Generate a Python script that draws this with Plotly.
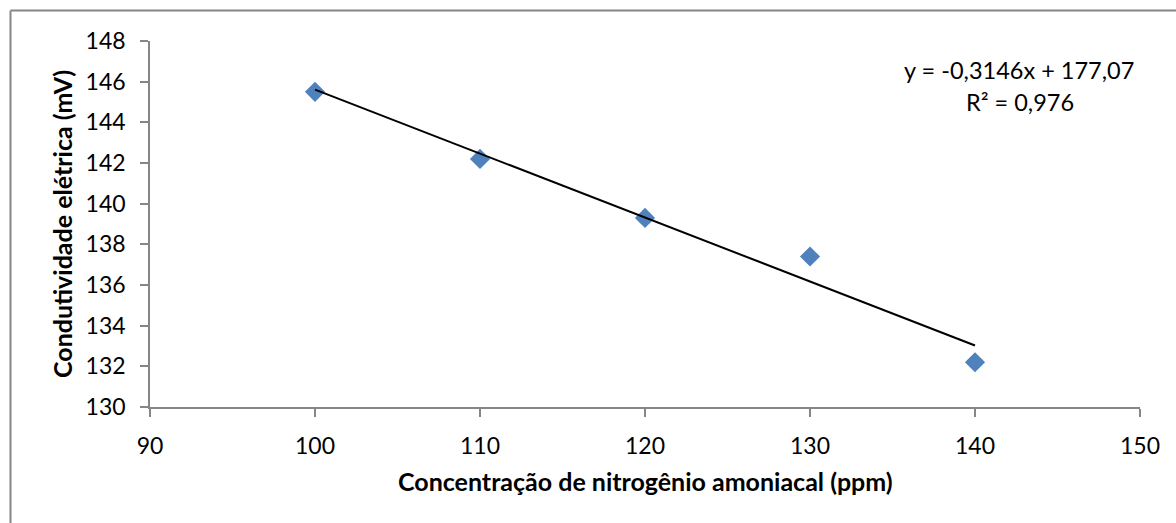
import numpy as np
import plotly.graph_objects as go

# Measured data: ammoniacal nitrogen concentration vs. electrical conductivity
concentracao_ppm = [100, 110, 120, 130, 140]
condutividade_mv = [145.5, 142.2, 139.3, 137.4, 132.2]

# Linear trendline coefficients (as reported on the chart)
inclinacao = -0.3146
intercepto = 177.07
r_quadrado = 0.976

x_ticks = [90, 100, 110, 120, 130, 140, 150]
y_ticks = [130, 132, 134, 136, 138, 140, 142, 144, 146, 148]

FONT = "Lato"
AXIS_GRAY = "#868686"

x_line = np.array([min(concentracao_ppm), max(concentracao_ppm)], dtype=float)
y_line = inclinacao * x_line + intercepto

def br_num(v, nd):
    return f"{v:.{nd}f}".replace(".", ",")

fig = go.Figure()
fig.add_trace(go.Scatter(
    x=concentracao_ppm, y=condutividade_mv, mode="markers",
    marker=dict(symbol="diamond", size=15.5, color="#4F81BD",
                line=dict(width=0)),
    showlegend=False, hoverinfo="x+y",
))
fig.add_trace(go.Scatter(
    x=x_line, y=y_line, mode="lines",
    line=dict(color="black", width=2),
    showlegend=False, hoverinfo="skip",
))

axis_common = dict(
    showgrid=False, zeroline=False, showline=True, linecolor=AXIS_GRAY,
    linewidth=1.5, ticks="outside", ticklen=8, tickwidth=1.5,
    tickcolor=AXIS_GRAY, tickfont=dict(family=FONT, size=23, color="black"),
    ticklabelstandoff=10,
)
fig.update_xaxes(range=[90, 150], tickvals=x_ticks, **axis_common)
fig.update_yaxes(range=[130, 148], tickvals=y_ticks, **axis_common)

eq_text = f"y = {br_num(inclinacao, 4)}x + {br_num(intercepto, 2)}"
r2_text = f"R² = {br_num(r_quadrado, 3)}"

L, R, T, B = 150, 36, 41, 116
W, H = 1176, 523
pw, ph = W - L - R, H - T - B

def px(xp):
    return (xp - L) / pw

def py(yp):
    return (H - B - yp) / ph

annotations = [
    dict(text=eq_text, x=px(1019), y=py(70), xref="paper", yref="paper",
         showarrow=False, xanchor="center", yanchor="middle",
         font=dict(family=FONT, size=23.5, color="black")),
    dict(text=r2_text, x=px(1020), y=py(102), xref="paper", yref="paper",
         showarrow=False, xanchor="center", yanchor="middle",
         font=dict(family=FONT, size=23.5, color="black")),
    dict(text="<b>Concentração de nitrogênio amoniacal (ppm)</b>",
         x=px(645), y=py(481), xref="paper", yref="paper",
         showarrow=False, xanchor="center", yanchor="middle",
         font=dict(family=FONT, size=25, color="black")),
    dict(text="<b>Condutividade elétrica (mV)</b>",
         x=px(62), y=py(224), xref="paper", yref="paper", textangle=-90,
         showarrow=False, xanchor="center", yanchor="middle",
         font=dict(family=FONT, size=25, color="black")),
]

# Chart-area frame (top and left edges visible in the window)
shapes = [
    dict(type="line", xref="paper", yref="paper",
         x0=px(10.5), x1=px(1200), y0=py(10.5), y1=py(10.5),
         line=dict(color=AXIS_GRAY, width=2)),
    dict(type="line", xref="paper", yref="paper",
         x0=px(10.5), x1=px(10.5), y0=py(10.5), y1=py(560),
         line=dict(color=AXIS_GRAY, width=2)),
]

fig.update_layout(
    width=W, height=H,
    margin=dict(l=L, r=R, t=T, b=B),
    paper_bgcolor="white", plot_bgcolor="white",
    annotations=annotations, shapes=shapes,
    font=dict(family=FONT, color="black"),
)

fig.write_html("out.html")
